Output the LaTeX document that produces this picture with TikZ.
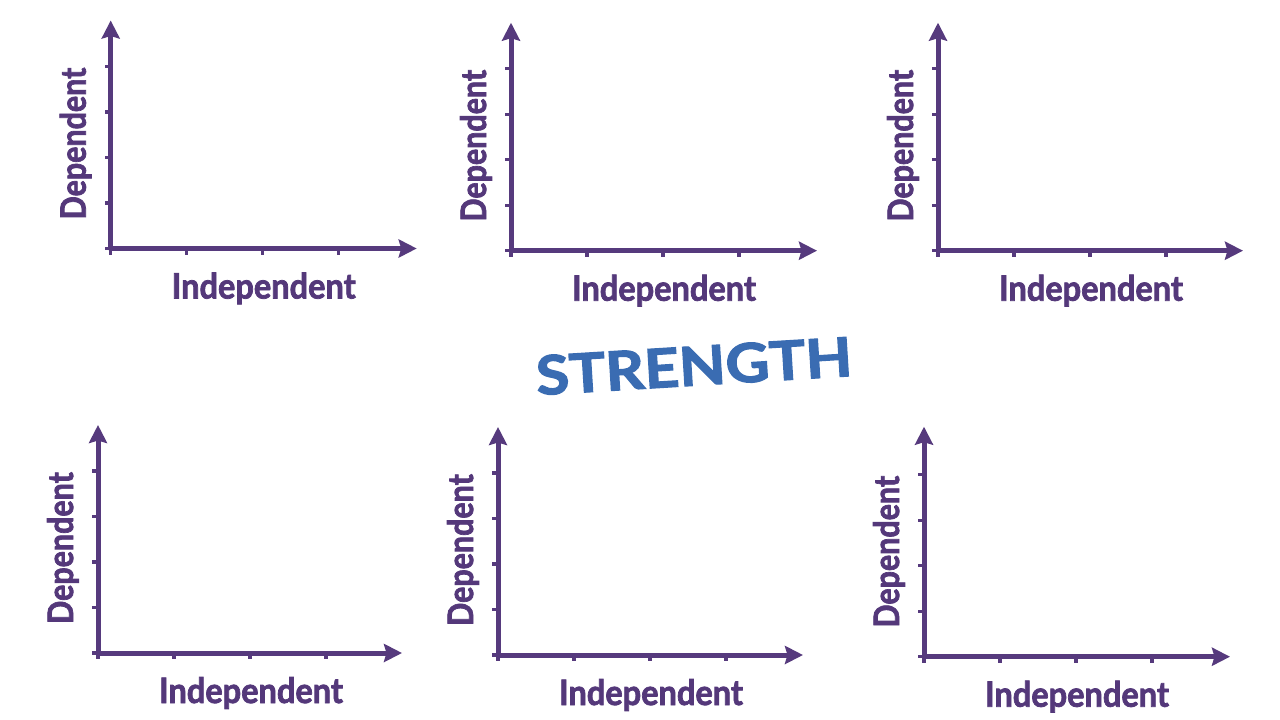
\documentclass[tikz,border=0pt]{standalone}
\usepackage{fontspec}
\setmainfont{Lato}[BoldFont=Lato Bold, BoldFeatures={FakeBold=2.2}]
\usetikzlibrary{arrows.meta,calc}
\definecolor{axispurple}{RGB}{86,58,125}
\definecolor{labelpurple}{RGB}{84,56,122}
\definecolor{strengthblue}{RGB}{58,108,178}
\tikzset{
  axisline/.style={draw=axispurple, line width=5pt, line join=round,
    {Stealth[length=18pt,width=18pt,inset=2.5pt]}-{Stealth[length=18pt,width=18pt,inset=2.5pt]}},
  tickline/.style={draw=axispurple, line width=3.2pt},
  xlab/.style={text=labelpurple, font=\bfseries\fontsize{35}{40}\selectfont, anchor=base, inner sep=0pt, xscale=0.93},
  ylab/.style={text=labelpurple, font=\bfseries\fontsize{35}{40}\selectfont, anchor=base, inner sep=0pt, rotate=90, xscale=0.87},
  title/.style={text=strengthblue, font=\bfseries\fontsize{54}{60}\selectfont, inner sep=0pt, rotate=3.5, xscale=1.12}
}
\begin{document}
\begin{tikzpicture}[x=1pt,y=-1pt]
\useasboundingbox[fill=white] (0,0) rectangle (1280,720);
\foreach \n/\ox/\oy/\w/\h in {a/110.7/248.5/306/228, b/511/250.7/306/228, c/938/250.7/305/228, d/98/653/304/228, e/498/655/305/228, f/924/656.7/306/230} {
  \coordinate (\n-o) at (\ox,\oy);
  \coordinate (\n-x) at (\ox+\w,\oy);
  \coordinate (\n-y) at (\ox,\oy-\h);
  \foreach \k in {0,1,2,3,4} {
    \draw[tickline] ($(\n-o)+(0,-45.5*\k)$) -- ++(-6,0);
  }
  \foreach \k in {0,1,2,3} {
    \draw[tickline] ($(\n-o)+(76*\k,0)$) -- ++(0,6);
  }
  \draw[axisline] (\n-y) |- (\n-x);
  \node[xlab] (\n-xl) at ($(\n-o)+(153,50)$) {Independent};
  \node[ylab] (\n-yl) at ($(\n-o)+(-25,-105)$) {Dependent};
}
\node[title] (strength) at (694,366) {STRENGTH};
\end{tikzpicture}
\end{document}
